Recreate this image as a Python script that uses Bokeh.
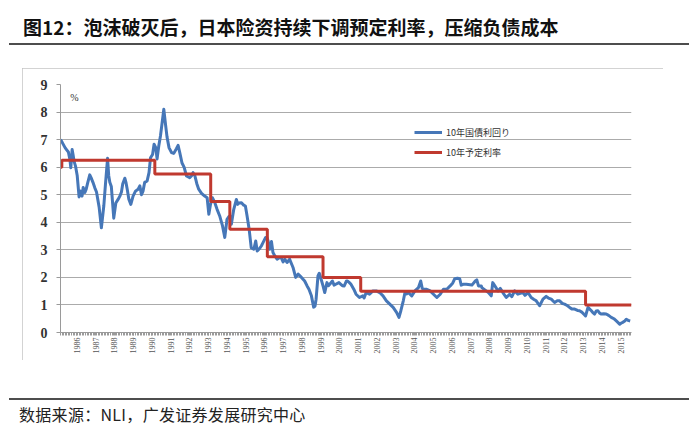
from math import pi
from bokeh.plotting import figure
from bokeh.layouts import column, row
from bokeh.models import (Range1d, FixedTicker, Label, Legend, LegendItem, Div, Spacer)
from bokeh.embed import file_html
from bokeh.resources import INLINE

# ---------------- data ----------------
title_text = "图12：泡沫破灭后，日本险资持续下调预定利率，压缩负债成本"
source_text = "数据来源：NLI，广发证券发展研究中心"
series_names = ["10年国債利回り", "10年予定利率"]

year_ticks = [1986, 1987, 1988, 1989, 1990, 1991, 1992, 1993, 1994, 1995,
              1996, 1997, 1998, 1999, 2000, 2001, 2002, 2003, 2004, 2005,
              2006, 2007, 2008, 2009, 2010, 2011, 2012, 2013, 2014, 2015]
year_labels = {y: str(y) for y in year_ticks}
y_ticks = [0, 1, 2, 3, 4, 5, 6, 7, 8, 9]

# 10-year JGB yield (decimal year, %)
jgb_t = [1985.13, 1985.22, 1985.30, 1985.38, 1985.47, 1985.55, 1985.63, 1985.68, 1985.75, 1985.80,
         1985.86, 1985.93, 1986.02, 1986.12, 1986.21, 1986.28, 1986.34, 1986.43, 1986.50, 1986.57,
         1986.69, 1986.76, 1986.86, 1986.96, 1987.05, 1987.19, 1987.31, 1987.44, 1987.53, 1987.64,
         1987.70, 1987.76, 1987.84, 1987.97, 1988.08, 1988.20, 1988.30, 1988.38, 1988.45, 1988.56,
         1988.62, 1988.70, 1988.77, 1988.88, 1989.00, 1989.13, 1989.27, 1989.36, 1989.45, 1989.53,
         1989.62, 1989.75, 1989.85, 1989.93, 1990.04, 1990.12, 1990.21, 1990.28, 1990.37, 1990.46,
         1990.55, 1990.64, 1990.73, 1990.81, 1990.92, 1991.05, 1991.17, 1991.31, 1991.40, 1991.49,
         1991.61, 1991.72, 1991.85, 1992.02, 1992.11, 1992.20, 1992.29, 1992.40, 1992.50, 1992.65,
         1992.82, 1992.95, 1993.04, 1993.13, 1993.23, 1993.36, 1993.48, 1993.62, 1993.77, 1993.89,
         1994.01, 1994.10, 1994.16, 1994.24, 1994.37, 1994.51, 1994.58, 1994.64, 1994.78, 1994.90,
         1994.99, 1995.08, 1995.19, 1995.30, 1995.44, 1995.54, 1995.62, 1995.75, 1995.84, 1995.93,
         1996.07, 1996.14, 1996.20, 1996.28, 1996.38, 1996.46, 1996.56, 1996.68, 1996.82, 1996.91,
         1997.00, 1997.09, 1997.21, 1997.35, 1997.53, 1997.67, 1997.80, 1997.98, 1998.15, 1998.28,
         1998.38, 1998.51, 1998.63, 1998.70, 1998.76, 1998.86, 1998.93, 1999.02, 1999.13, 1999.22,
         1999.34, 1999.42, 1999.49, 1999.63, 1999.72, 1999.81, 1999.98, 2000.08, 2000.16, 2000.26,
         2000.38, 2000.44, 2000.55, 2000.62, 2000.77, 2000.89, 2001.07, 2001.25, 2001.32, 2001.43,
         2001.61, 2001.79, 2001.97, 2002.15, 2002.33, 2002.51, 2002.69, 2002.87, 2003.05, 2003.18,
         2003.28, 2003.41, 2003.50, 2003.58, 2003.68, 2003.86, 2004.03, 2004.22, 2004.34, 2004.42,
         2004.48, 2004.66, 2004.84, 2005.02, 2005.20, 2005.38, 2005.55, 2005.73, 2005.91, 2006.05,
         2006.15, 2006.30, 2006.42, 2006.50, 2006.60, 2006.77, 2007.07, 2007.25, 2007.33, 2007.42,
         2007.57, 2007.60, 2007.83, 2007.95, 2008.10, 2008.18, 2008.24, 2008.46, 2008.58, 2008.72,
         2008.90, 2009.08, 2009.20, 2009.35, 2009.52, 2009.65, 2009.79, 2009.90, 2010.06, 2010.23,
         2010.38, 2010.50, 2010.68, 2010.86, 2011.03, 2011.15, 2011.30, 2011.48, 2011.62, 2011.75,
         2011.90, 2012.01, 2012.15, 2012.28, 2012.40, 2012.55, 2012.70, 2012.81, 2012.95, 2013.03,
         2013.13, 2013.26, 2013.35, 2013.44, 2013.52, 2013.61, 2013.70, 2013.79, 2013.88, 2013.97,
         2014.10, 2014.23, 2014.36, 2014.50, 2014.64, 2014.77, 2014.88, 2014.95, 2015.05, 2015.12,
         2015.22, 2015.30, 2015.40, 2015.51]
jgb_v = [7.00, 6.90, 6.80, 6.70, 6.62, 6.55, 6.28, 5.98, 6.64, 6.45,
         6.20, 6.04, 5.70, 4.92, 5.13, 4.95, 5.26, 5.08, 5.20, 5.40,
         5.72, 5.62, 5.45, 5.25, 5.10, 4.55, 3.80, 4.60, 5.40, 6.32,
         5.70, 5.45, 5.30, 4.15, 4.70, 4.83, 4.95, 5.10, 5.40, 5.60,
         5.45, 5.15, 4.85, 4.65, 4.95, 5.13, 5.20, 5.32, 5.00, 5.13,
         5.45, 5.50, 5.80, 6.34, 6.46, 6.83, 6.71, 6.30, 6.77, 7.13,
         7.61, 8.10, 7.55, 7.10, 6.70, 6.53, 6.50, 6.67, 6.79, 6.53,
         6.15, 6.00, 5.68, 5.62, 5.68, 5.80, 5.70, 5.40, 5.20, 5.05,
         4.95, 4.89, 4.29, 4.65, 4.89, 4.71, 4.47, 4.23, 3.87, 3.45,
         4.11, 4.20, 4.23, 3.93, 4.47, 4.83, 4.65, 4.70, 4.71, 4.62,
         4.59, 4.23, 3.75, 3.08, 3.02, 3.32, 2.96, 3.05, 3.14, 3.26,
         3.45, 3.45, 3.32, 3.02, 3.30, 2.90, 2.78, 2.66, 2.72, 2.70,
         2.56, 2.66, 2.54, 2.66, 2.36, 2.00, 2.12, 2.00, 1.87, 1.69,
         1.57, 1.33, 0.92, 0.95, 1.21, 2.05, 2.15, 1.95, 1.69, 1.45,
         1.81, 1.70, 1.75, 1.87, 1.72, 1.75, 1.81, 1.75, 1.70, 1.69,
         1.87, 1.87, 1.80, 1.75, 1.57, 1.39, 1.27, 1.33, 1.25, 1.45,
         1.39, 1.51, 1.51, 1.45, 1.33, 1.15, 1.03, 0.91, 0.73, 0.55,
         0.79, 1.15, 1.45, 1.40, 1.45, 1.33, 1.51, 1.63, 1.87, 1.60,
         1.57, 1.57, 1.51, 1.39, 1.27, 1.39, 1.57, 1.57, 1.69, 1.80,
         1.95, 1.97, 1.95, 1.72, 1.75, 1.75, 1.72, 1.87, 1.91, 1.69,
         1.69, 1.63, 1.51, 1.45, 1.33, 1.81, 1.75, 1.51, 1.60, 1.45,
         1.27, 1.39, 1.30, 1.51, 1.39, 1.42, 1.45, 1.35, 1.45, 1.27,
         1.20, 1.15, 0.97, 1.21, 1.31, 1.25, 1.21, 1.09, 1.15, 1.15,
         1.05, 1.03, 0.98, 0.91, 0.85, 0.85, 0.80, 0.79, 0.73, 0.67,
         0.60, 0.91, 0.85, 0.79, 0.72, 0.67, 0.78, 0.79, 0.70, 0.67,
         0.68, 0.67, 0.62, 0.55, 0.50, 0.42, 0.35, 0.30, 0.35, 0.37,
         0.42, 0.48, 0.44, 0.42]

# assumed (guaranteed) rate: start of each level and its value
rate_t = [1985.13, 1985.20, 1990.16, 1993.14, 1994.16, 1996.16, 1999.13, 2001.14, 2013.13, 2015.58]
rate_v = [6.00, 6.25, 5.75, 4.75, 3.75, 2.75, 2.00, 1.50, 1.00, 1.00]

# ---------------- styles ----------------
BLUE = "#4677B8"
RED = "#C0392F"
GRID = "#ABABAB"
AXIS = "#9A9A9A"
RULE = "#4D4D4D"

p = figure(width=641, height=292, output_backend="svg", toolbar_location=None,
           x_range=Range1d(1985.13, 2015.58), y_range=Range1d(0, 9),
           min_border_left=38, min_border_right=32, min_border_top=16,
           min_border_bottom=28, background_fill_color="white",
           border_fill_color="white", outline_line_color=None)
p.styles = {"outline": "1px solid #C4C4C4", "outline-offset": "-1px"}

# axes
p.yaxis.ticker = FixedTicker(ticks=y_ticks)
p.yaxis.axis_line_color = AXIS
p.yaxis.major_tick_line_color = AXIS
p.yaxis.major_tick_out = 4
p.yaxis.major_tick_in = 0
p.yaxis.minor_tick_line_color = None
p.yaxis.major_label_standoff = 9
p.yaxis.major_label_text_font = "Liberation Serif"
p.yaxis.major_label_text_font_size = "14px"
p.yaxis.major_label_text_font_style = "bold"
p.yaxis.major_label_text_color = "#333333"

month_ticks = [1985.13 + k / 12.0 for k in range(0, 366)]
p.xaxis.ticker = FixedTicker(ticks=year_ticks, minor_ticks=month_ticks)
p.xaxis.major_label_overrides = year_labels
p.xaxis.major_label_orientation = pi / 2
p.xaxis.axis_line_color = AXIS
p.xaxis.major_tick_line_color = AXIS
p.xaxis.minor_tick_line_color = AXIS
p.xaxis.major_tick_out = 3
p.xaxis.major_tick_in = 0
p.xaxis.minor_tick_out = 3
p.xaxis.minor_tick_in = 0
p.xaxis.major_label_standoff = 2
p.xaxis.major_label_text_font = "Liberation Serif"
p.xaxis.major_label_text_font_size = "8px"
p.xaxis.major_label_text_color = "#555555"

p.xgrid.grid_line_color = None
p.ygrid.ticker = FixedTicker(ticks=y_ticks[1:])
p.ygrid.grid_line_color = GRID
p.ygrid.grid_line_width = 1

# series
r_blue = p.line(jgb_t, jgb_v, line_color=BLUE, line_width=3, line_join="round")
r_red = p.step(rate_t, rate_v, mode="after", line_color=RED, line_width=3)

legend = Legend(items=[LegendItem(label=series_names[0], renderers=[r_blue]),
                       LegendItem(label=series_names[1], renderers=[r_red])],
                location=(354, 170), padding=0, margin=0, spacing=0,
                glyph_width=28, glyph_height=20, label_height=20,
                label_standoff=4, border_line_color=None,
                background_fill_alpha=0, label_text_font="Noto Sans CJK JP",
                label_text_font_size="9px", label_text_color="#333333")
p.add_layout(legend)

p.add_layout(Label(x=14, y=235, x_units="screen", y_units="screen", text="%",
                   text_font="Liberation Serif", text_font_size="10px",
                   text_color="#333333", text_align="center", text_baseline="middle"))

# title block and source block
title_div = Div(width=684, height=58, text=(
    '<div style="position:relative;width:684px;height:58px;">'
    '<div style="position:absolute;left:18px;top:9px;white-space:nowrap;'
    'font-family:\'Noto Sans CJK SC\';font-weight:bold;font-size:19px;line-height:26px;color:#111;">'
    + title_text + '</div>'
    '<div style="position:absolute;left:4px;top:38px;width:680px;height:2px;background:' + RULE + ';"></div>'
    '</div>'))
source_div = Div(width=684, height=60, text=(
    '<div style="position:relative;width:684px;height:60px;">'
    '<div style="position:absolute;left:4px;top:33px;width:680px;height:2px;background:' + RULE + ';"></div>'
    '<div style="position:absolute;left:14px;top:38px;white-space:nowrap;letter-spacing:0.3px;'
    'font-family:\'Noto Sans CJK SC\';font-size:16px;line-height:22px;color:#222;">'
    + source_text + '</div>'
    '</div>'))

layout = column(title_div, row(Spacer(width=22, height=292), p), source_div, spacing=0)

open("out.html", "w").write(file_html(layout, INLINE))
